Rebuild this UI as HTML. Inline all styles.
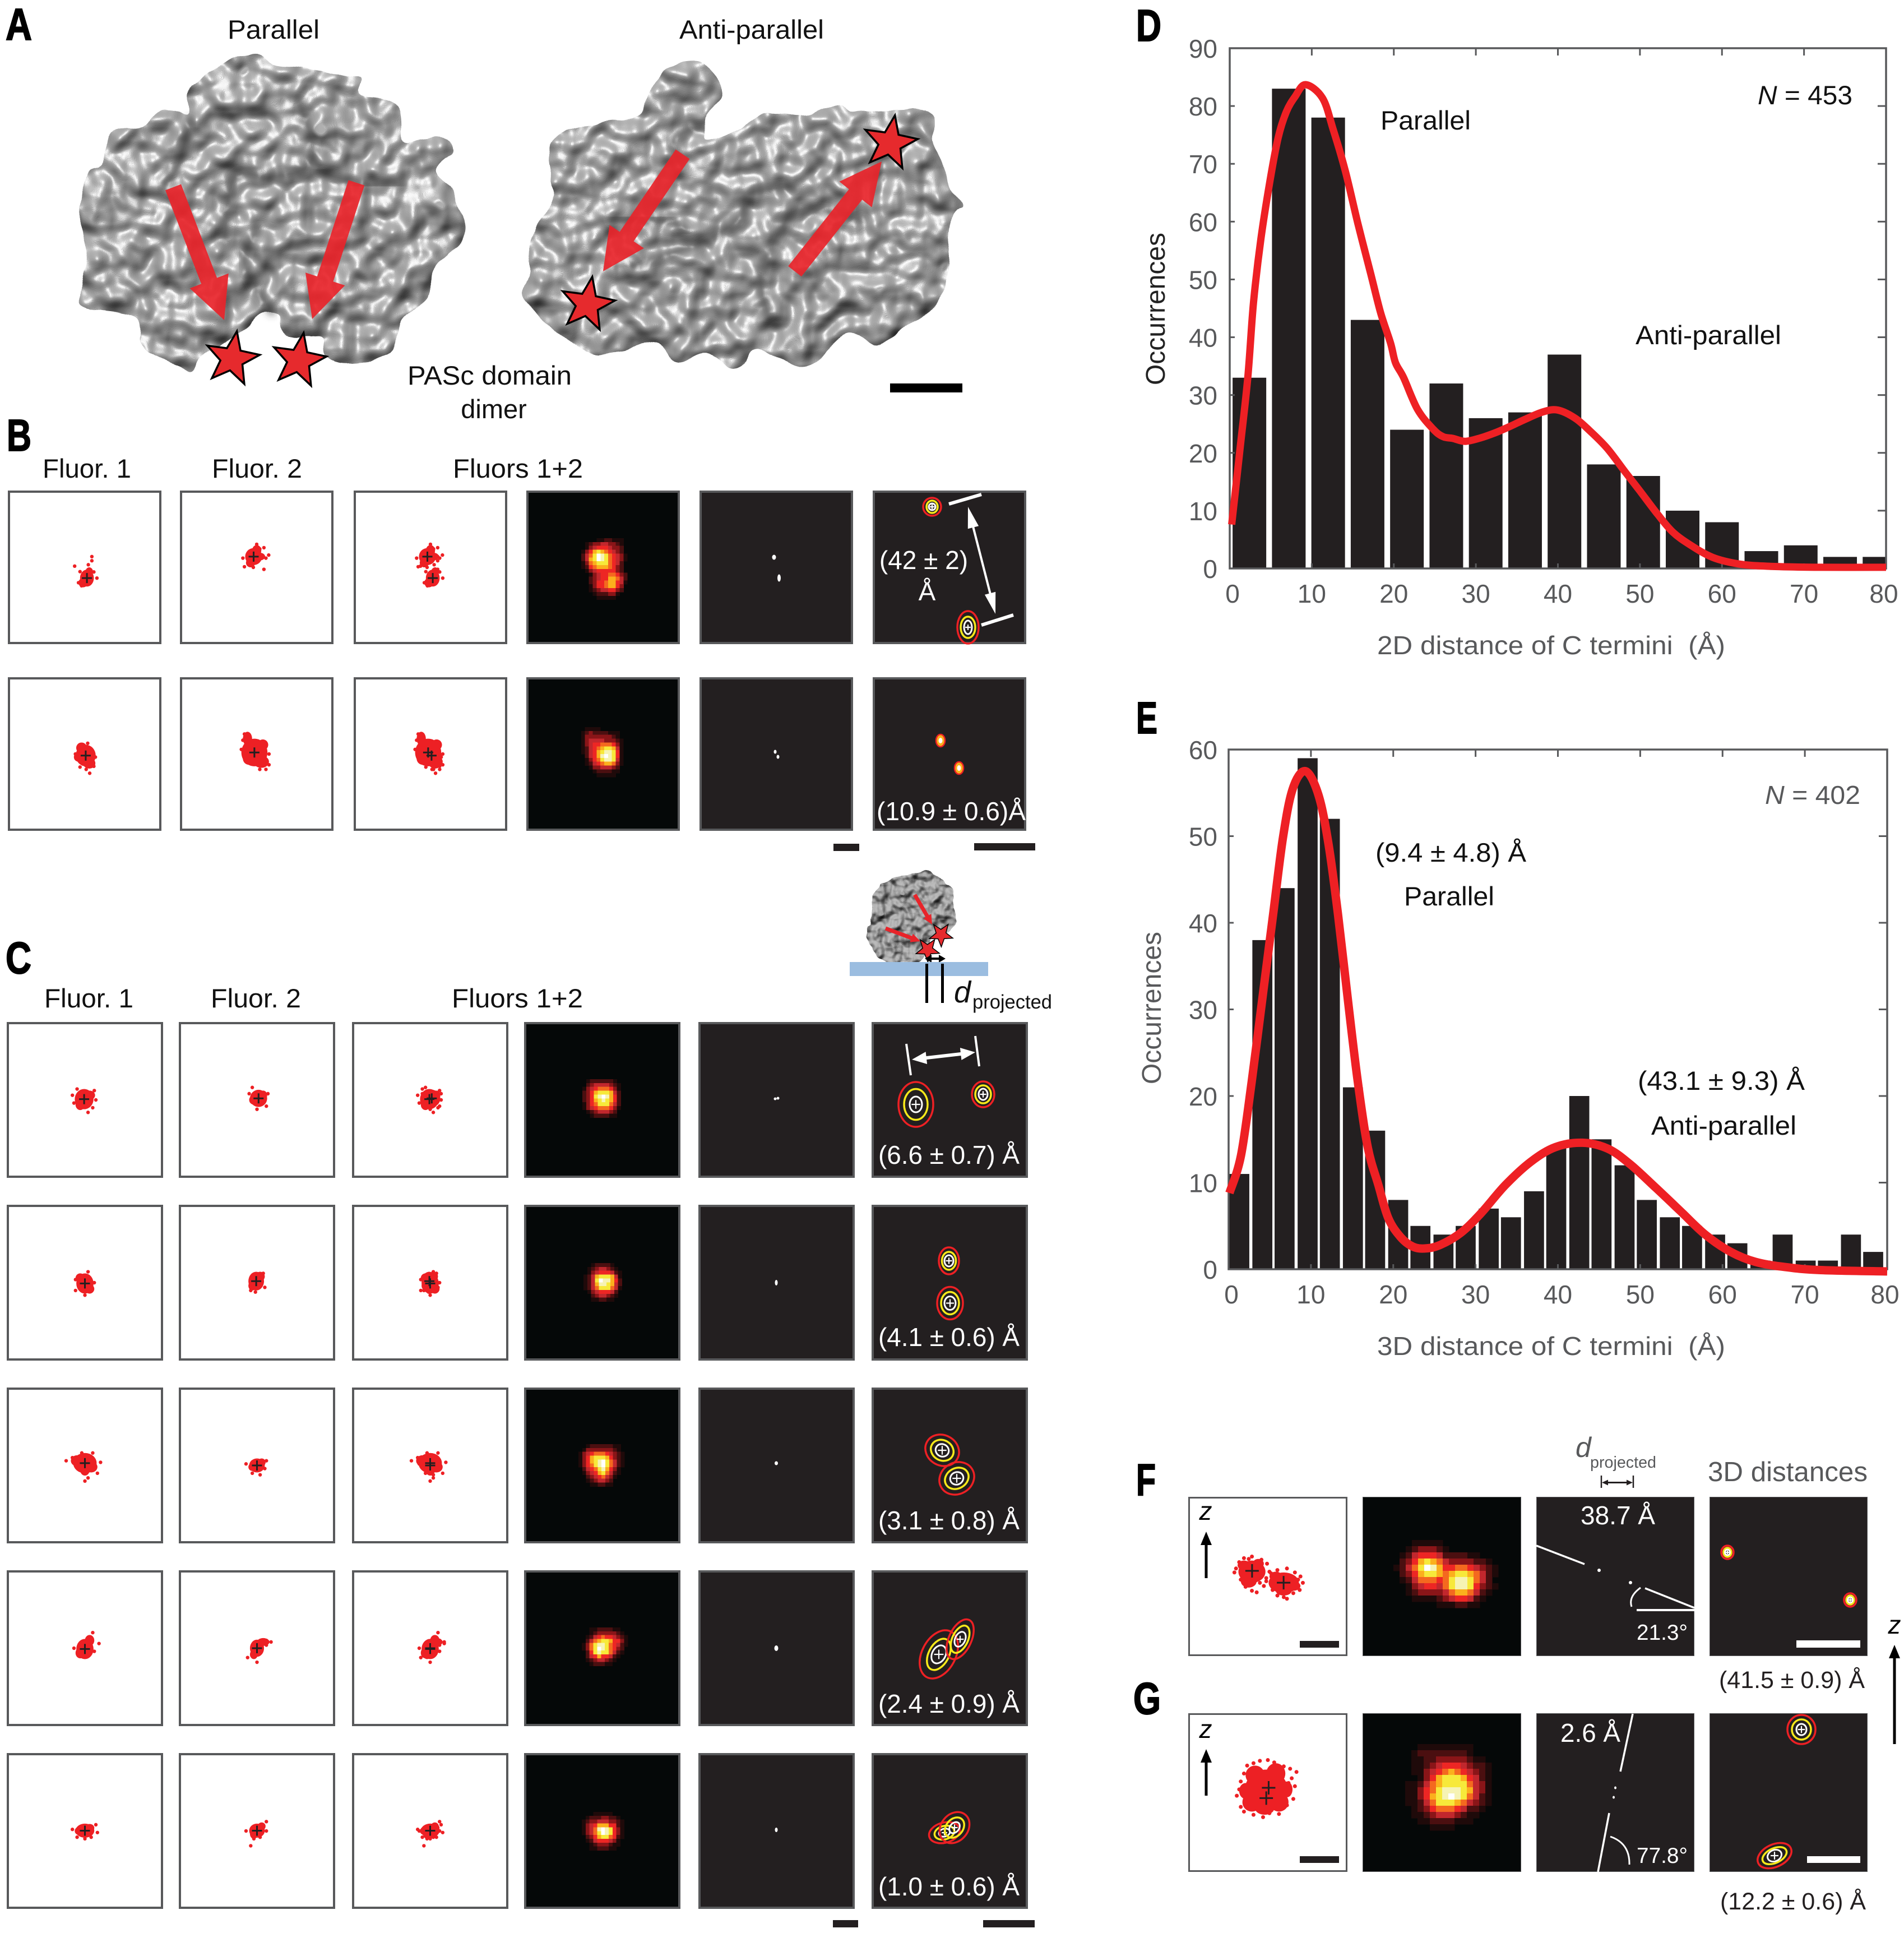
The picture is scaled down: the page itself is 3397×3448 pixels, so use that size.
<!DOCTYPE html>
<html lang="en">
<head>
<meta charset="utf-8">
<title>PASc domain dimer distance figure</title>
<style>
html,body{margin:0;padding:0;background:#fff;}
svg{display:block;}
text{font-family:"Liberation Sans",Arial,sans-serif;white-space:pre;}
.h{font-size:47px;fill:#111;}
.g{font-size:46px;fill:#58595b;}
.w{font-size:46px;fill:#fff;}
.pl{font-size:80px;font-weight:700;fill:#000;stroke:#000;stroke-width:2px;}
</style>
</head>
<body>
<svg id="fig" xmlns="http://www.w3.org/2000/svg" width="3397" height="3448" viewBox="0 0 3397 3448">
<defs>
<filter id="surface" x="-6%" y="-6%" width="112%" height="112%" color-interpolation-filters="sRGB">
<feTurbulence type="fractalNoise" baseFrequency="0.02" numOctaves="2" seed="11" result="n"/>
<feDisplacementMap in="SourceAlpha" in2="n" scale="18" xChannelSelector="R" yChannelSelector="G" result="shape"/>
<feColorMatrix in="n" type="matrix" values="0 0 0 0 0  0 0 0 0 0  0 0 0 0 0  1.6 0 0 0 -0.3" result="hn"/>
<feGaussianBlur in="shape" stdDeviation="10" result="edge"/>
<feComposite in="hn" in2="edge" operator="arithmetic" k1="0" k2="0.7" k3="0.3" k4="0" result="hsum"/>
<feGaussianBlur in="hsum" stdDeviation="2" result="h2"/>
<feDiffuseLighting in="h2" surfaceScale="16" diffuseConstant="1" lighting-color="#b2b2b2" result="d"><feDistantLight azimuth="250" elevation="62"/></feDiffuseLighting>
<feSpecularLighting in="h2" surfaceScale="16" specularConstant="0.32" specularExponent="50" lighting-color="#ffffff" result="s"><feDistantLight azimuth="250" elevation="62"/></feSpecularLighting>
<feComposite in="d" in2="s" operator="arithmetic" k1="0" k2="1" k3="1" k4="0" result="lit"/>
<feComposite in="lit" in2="shape" operator="in"/>
</filter>
<filter id="surfaceSmall" x="-6%" y="-6%" width="112%" height="112%" color-interpolation-filters="sRGB">
<feTurbulence type="fractalNoise" baseFrequency="0.05" numOctaves="2" seed="4" result="n"/>
<feDisplacementMap in="SourceAlpha" in2="n" scale="10" xChannelSelector="R" yChannelSelector="G" result="shape"/>
<feColorMatrix in="n" type="matrix" values="0 0 0 0 0  0 0 0 0 0  0 0 0 0 0  1.6 0 0 0 -0.3" result="h"/>
<feDiffuseLighting in="h" surfaceScale="7" diffuseConstant="1" lighting-color="#bcbcbc" result="d"><feDistantLight azimuth="250" elevation="62"/></feDiffuseLighting>
<feComposite in="d" in2="shape" operator="in"/>
</filter>
<filter id="soft" x="-20%" y="-20%" width="140%" height="140%"><feGaussianBlur stdDeviation="6"/></filter>
</defs>

<rect x="0" y="0" width="3397" height="3448" fill="#ffffff"/>

<g id="proteins"></g>
<g id="panels"></g>
<g id="charts"></g>

<g>
<text class="pl" x="10" y="71" textLength="47" lengthAdjust="spacingAndGlyphs">A</text>
<text class="pl" x="12" y="804" textLength="44" lengthAdjust="spacingAndGlyphs">B</text>
<text class="pl" x="10" y="1736" textLength="46" lengthAdjust="spacingAndGlyphs">C</text>
<text class="pl" x="2027" y="73" textLength="45" lengthAdjust="spacingAndGlyphs">D</text>
<text class="pl" x="2027" y="1308" textLength="38" lengthAdjust="spacingAndGlyphs">E</text>
<text class="pl" x="2027" y="2667" textLength="35" lengthAdjust="spacingAndGlyphs">F</text>
<text class="pl" x="2022" y="3057" textLength="49" lengthAdjust="spacingAndGlyphs">G</text>
</g>

<g>
<text class="h" x="406" y="69" textLength="164" lengthAdjust="spacingAndGlyphs">Parallel</text>
<text class="h" x="1212" y="69" textLength="258" lengthAdjust="spacingAndGlyphs">Anti-parallel</text>
<text class="h" x="727" y="686" textLength="293" lengthAdjust="spacingAndGlyphs">PASc domain</text>
<text class="h" x="881" y="746" text-anchor="middle">dimer</text>
<rect x="1588" y="684" width="129" height="16" fill="#000"/>
</g>

<g>
<text class="h" x="76" y="852" textLength="158" lengthAdjust="spacingAndGlyphs">Fluor. 1</text>
<text class="h" x="378" y="852" textLength="161" lengthAdjust="spacingAndGlyphs">Fluor. 2</text>
<text class="h" x="808" y="852" textLength="232" lengthAdjust="spacingAndGlyphs">Fluors 1+2</text>
<rect x="1487" y="1505" width="46" height="13" fill="#231f20"/>
<rect x="1738" y="1504" width="109" height="13" fill="#231f20"/>
</g>

<g>
<text class="h" x="79" y="1797" textLength="159" lengthAdjust="spacingAndGlyphs">Fluor. 1</text>
<text class="h" x="376" y="1797" textLength="161" lengthAdjust="spacingAndGlyphs">Fluor. 2</text>
<text class="h" x="806" y="1797" textLength="234" lengthAdjust="spacingAndGlyphs">Fluors 1+2</text>
<rect x="1486" y="3425" width="45" height="13" fill="#231f20"/>
<rect x="1754" y="3425" width="92" height="13" fill="#231f20"/>
<rect x="1516" y="1716" width="247" height="25" fill="#9bbde0"/>
<rect x="1651" y="1719" width="5" height="70" fill="#000"/>
<rect x="1679" y="1719" width="5" height="70" fill="#000"/>
<text x="1702" y="1788" font-size="54" font-style="italic" fill="#111">d</text>
<text x="1735" y="1799" font-size="35" fill="#111" textLength="142" lengthAdjust="spacingAndGlyphs">projected</text>
</g>

<g>
<text class="w" x="1648" y="1015" text-anchor="middle">(42 ± 2)</text>
<text class="w" x="1654" y="1071" text-anchor="middle">Å</text>
<text class="w" x="1564" y="1463" textLength="266" lengthAdjust="spacingAndGlyphs">(10.9 ± 0.6)Å</text>
<text class="w" x="1567" y="2076" textLength="252" lengthAdjust="spacingAndGlyphs">(6.6 ± 0.7) Å</text>
<text class="w" x="1567" y="2401" textLength="252" lengthAdjust="spacingAndGlyphs">(4.1 ± 0.6) Å</text>
<text class="w" x="1567" y="2728" textLength="252" lengthAdjust="spacingAndGlyphs">(3.1 ± 0.8) Å</text>
<text class="w" x="1567" y="3055" textLength="252" lengthAdjust="spacingAndGlyphs">(2.4 ± 0.9) Å</text>
<text class="w" x="1567" y="3381" textLength="252" lengthAdjust="spacingAndGlyphs">(1.0 ± 0.6) Å</text>
</g>

<g>
<text x="2811" y="2599" font-size="50" font-style="italic" fill="#58595b">d</text>
<text x="2837" y="2618" font-size="29" fill="#58595b" textLength="118" lengthAdjust="spacingAndGlyphs">projected</text>
<text x="3047" y="2642" font-size="49" fill="#58595b" textLength="285" lengthAdjust="spacingAndGlyphs">3D distances</text>
<text class="w" x="2820" y="2719" textLength="133" lengthAdjust="spacingAndGlyphs">38.7 Å</text>
<text x="2920" y="2925" font-size="39" fill="#fff" textLength="91" lengthAdjust="spacingAndGlyphs">21.3°</text>
<text class="w" x="2784" y="3107" textLength="107" lengthAdjust="spacingAndGlyphs">2.6 Å</text>
<text x="2920" y="3323" font-size="39" fill="#fff" textLength="91" lengthAdjust="spacingAndGlyphs">77.8°</text>
<text x="3067" y="3011" font-size="43" fill="#231f20" textLength="260" lengthAdjust="spacingAndGlyphs">(41.5 ± 0.9) Å</text>
<text x="3069" y="3406" font-size="43" fill="#231f20" textLength="260" lengthAdjust="spacingAndGlyphs">(12.2 ± 0.6) Å</text>
<text x="2151" y="2711" font-size="46" font-style="italic" fill="#000" text-anchor="middle">z</text>
<text x="2151" y="3100" font-size="46" font-style="italic" fill="#000" text-anchor="middle">z</text>
<text x="3380" y="2914" font-size="46" font-style="italic" fill="#000" text-anchor="middle">z</text>
</g>

<g>
<text class="h" x="2463" y="231" textLength="161" lengthAdjust="spacingAndGlyphs">Parallel</text>
<text class="h" x="2918" y="614" textLength="260" lengthAdjust="spacingAndGlyphs">Anti-parallel</text>
<text class="h" x="3136" y="186" textLength="169" lengthAdjust="spacingAndGlyphs"><tspan font-style="italic">N</tspan> = 453</text>
<text x="2078" y="551" font-size="48" fill="#222" text-anchor="middle" transform="rotate(-90 2078 551)">Occurrences</text>
<text class="g" x="2457" y="1167" textLength="621" lengthAdjust="spacingAndGlyphs" xml:space="preserve">2D distance of C termini  (Å)</text>
</g>

<g>
<text class="h" x="2454" y="1537" textLength="269" lengthAdjust="spacingAndGlyphs">(9.4 ± 4.8) Å</text>
<text class="h" x="2505" y="1615" textLength="161" lengthAdjust="spacingAndGlyphs">Parallel</text>
<text class="h" x="2922" y="1944" textLength="298" lengthAdjust="spacingAndGlyphs">(43.1 ± 9.3) Å</text>
<text class="h" x="2946" y="2024" textLength="259" lengthAdjust="spacingAndGlyphs">Anti-parallel</text>
<text class="g" x="3149" y="1434" textLength="170" lengthAdjust="spacingAndGlyphs"><tspan font-style="italic">N</tspan> = 402</text>
<text x="2071" y="1798" font-size="48" fill="#58595b" text-anchor="middle" transform="rotate(-90 2071 1798)">Occurrences</text>
<text class="g" x="2457" y="2417" textLength="621" lengthAdjust="spacingAndGlyphs" xml:space="preserve">3D distance of C termini  (Å)</text>
</g>
</svg>

<script>
/* ---------- Chart data: panel D ---------- */
const xTickValues = [0,10,20,30,40,50,60,70,80];
const dYTickValues = [0,10,20,30,40,50,60,70,80,90];
const dBinCenters = [2.4,7.2,12,16.8,21.6,26.4,31.2,36,40.8,45.6,50.4,55.2,60,64.8,69.6,74.4,79.2];
const dCounts = [33,83,78,43,24,32,26,27,37,18,16,10,8,3,4,2,2];
const dFitX = [0.24,1.2,2.2,2.9,3.8,4.9,5.9,6.9,8,9.25,11.3,12.6,14.1,15.6,17.2,18.4,19.6,20.2,21.2,22.9,24.8,26,27.2,28.7,30.6,32.4,34.2,36,38.2,40,42.1,43.9,46,48.2,50,52.2,54,56.1,58.9,62.2,65.9,72,80];
const dFitY = [7.6,20,33,46,57,67,74.5,79,81.7,83.7,81.4,76,68.7,59.8,50.9,44.2,39,35.6,33,27.5,24.1,22.8,22.5,22,22.6,23.5,24.6,25.8,27.1,27.4,26,23.8,20.8,16.7,13.4,9.3,6.3,4.1,1.9,0.75,0.37,0.2,0.2];

/* ---------- Chart data: panel E ---------- */
const eYTickValues = [0,10,20,30,40,50,60];
const eBinCenters = [1.3,4.1,6.8,9.6,12.3,15.1,17.8,20.6,23.3,26.1,28.8,31.6,34.3,37.1,39.8,42.6,45.3,48.1,50.8,53.6,56.3,59.1,61.8,64.6,67.3,70.1,72.8,75.6,78.3];
const eCounts = [11,38,44,59,52,21,16,8,5,4,5,7,6,9,14,20,15,12,8,6,5,4,3,1,4,1,1,4,2];
const eFitX = [0.1,1.5,2.8,4.2,5.4,6.6,7.8,9.35,10.9,12.1,13.3,14.5,15.7,16.9,18.2,19.4,20.9,22.4,23.9,25.7,28.2,30.6,33.6,36.7,39.7,43,46.1,48.8,51.9,54.9,57.9,61,64,67.6,71.9,80];
const eFitY = [8.8,13.1,21.6,32,40.9,49.8,55.5,57.5,54.8,49.3,40.9,31,21.6,14.1,9.7,5.9,3.7,2.6,2.4,2.8,4.2,6.4,9.7,12.4,14.1,14.6,13.9,12.1,9.4,6.7,4,2,0.85,0.25,-0.1,-0.25];

/* ---------- Heatmap intensities, one string per pixel row (0 black .. a white) ---------- */
const heatB1 = ["000011221110","012334433210","013455543320","135787654320","2468a9865431","2478a9865431","136788865420","125677765320","013455555320","001345566532","002345577642","002355677541","001355677530","001234455320","000122233100","000011111000"];
const heatB2 = ["001111000000","012322221110","013333333210","013444433321","013455666531","012456788741","012457899851","0024579a9851","001356899841","001245677631","000133444320","000012222110","000001111100"];
const heatC1 = ["0122222210","0234444321","1345666531","2357888742","23589a9752","2357898752","1356888642","1345666531","0123444320","0012222110"];
const heatC2 = ["0012222100","0123443210","0134555421","1247888741","1248a99752","1247998742","1246888641","0134555420","0023443210","0011221100"];
const heatC3 = ["001222222110","013333333210","134566654321","135788875321","135789a86421","135689a86421","024568975310","013457864210","002345643100","001234432000","000112211000"];
const heatC4 = ["001122221100","001233333210","012456554321","024678875531","136899865421","1368a9865320","025898864210","024575542100","012344321000","001222110000"];
const heatC5 = ["00011111000","01222332210","12334443321","13457775521","13469a98531","13468a98531","02357886521","01245554310","00123332110","00112221100"];
const heatF = ["00011111000000000","00123332100000000","01245554222211000","02357876433332210","12468a97556654321","02357887678876421","01246665689986420","00134554689985321","00123333467764210","00011112345542100","00000001112211000"];
const heatG = ["000111111111000","001222222221000","001122333332110","001123455543221","001134567654321","000135788875421","011246788886431","011356899987431","01135789a986421","011246888764321","001235666542210","001123444321100","000112222111000","000001111000000"];
const heatColors = ["#050808","#1f0a0a","#4b0f10","#8a1518","#c1272d","#ed2624","#f4691f","#fbb01d","#f7e93a","#f6f3b4","#ffffff"];

/* ---------- Localization clusters, percent of panel width/height ---------- */
const clusterB1a = {c:[51.5,57],r:[4.5,5.5],lobes:[[49,60,3,3],[53,53,2.5,3]],out:[[54.7,43],[52.4,48.3],[43.5,49.2],[47,52.8],[54.7,45.7],[58,57],[48,62],[46,60],[56,53]]};
const clusterB1b = {c:[48,43],r:[5.5,5.5],lobes:[[46,47,3,3],[50,39,3,3.5],[52,43,3.5,2.5]],out:[[57.8,42],[50,35],[54.7,37.2],[47.8,50],[54.7,51.3],[42,49.6],[41,44],[52,38],[56,44]]};
const clusterB2a = {c:[50.7,51],r:[6.5,7],lobes:[[48,46,3.5,3.5],[53,56,4,3.5],[46,52,3,3]],out:[[53.3,62.5],[51,60],[47,58.5],[56,58],[44,50],[52,43],[57,52]]};
const clusterB2b = {c:[48.5,49],r:[8.5,9],lobes:[[44,40,3,4.5],[53,55,5,4],[45,53,4,4],[54,44,3.5,3.5]],out:[[42,37],[41,41],[52,60],[58,57],[56,60],[40,47],[44,38],[58,50]]};
const clusterC1a = {c:[49.5,49.5],r:[6,6.5],lobes:[[53,47,3.5,3],[47,53,3,3.5]],out:[[56,44],[43,52],[55,55],[52,58],[45,43],[42,47],[57,50]]};
const clusterC1b = {c:[51,49],r:[5.5,5.5],lobes:[[48,50,3,3],[54,47,2.5,3]],out:[[57,46],[45,46],[50,56],[56,54],[47,42]]};
const clusterC2a = {c:[50,50.5],r:[5.5,6.5],lobes:[[47,47,3,3],[53,54,3,3]],out:[[56,50],[44,55],[50,58],[52,43],[44,48]]};
const clusterC2b = {c:[49.5,49],r:[5,6],lobes:[[52,46,3,3],[47,52,2.5,3]],out:[[54,44],[55,53],[46,55],[49,56]]};
const clusterC3a = {c:[50,48.5],r:[7.5,6.5],lobes:[[45,47,4,3.5],[54,51,4,3.5],[50,53,3,3.5]],out:[[60,48],[42,45],[38,47],[58,55],[52,58],[48,42],[55,42],[50,60]]};
const clusterC3b = {c:[50,50],r:[5,4.5],lobes:[[47,51,2.5,2.5],[53,48,2.5,2.5]],out:[[56,47],[43,49],[52,56],[47,55],[55,52]]};
const clusterC4a = {c:[50,50.5],r:[5.5,6.5],lobes:[[53,45,3,3.5],[47,53,3,3.5]],out:[[55,40],[59,47],[43,50],[56,52],[54,44]]};
const clusterC4b = {c:[50,50],r:[4.5,5.5],lobes:[[54,46,4,2.5],[48,54,2.5,3]],out:[[56,45],[59,46],[50,59],[44,56],[56,48]]};
const clusterC5a = {c:[50,49.8],r:[6,4.5],lobes:[[46,50,2.5,2.5],[53,48,3,2.5]],out:[[42,49],[57,46],[58,51],[54,54],[45,54],[50,55]]};
const clusterC5b = {c:[50,49.8],r:[5,4.5],lobes:[[48,52,2.5,3],[53,47,2.5,2.5]],out:[[46,59.5],[52,54],[56,44],[43,50],[56,50],[48,55]]};
const clusterF1 = {c:[40,47],r:[8.5,7],lobes:[[38,53,5,4],[35,43,4,3],[44,42,3.5,3]],out:[[30,45],[32,41],[35,38.5],[40,37.5],[46,39.5],[49.5,42],[51,47],[49,51],[45,54],[40,59],[36,56.5],[33,52],[29,47.5],[43,60],[38,39]]};
const clusterF2 = {c:[60,54],r:[9.5,6.5],lobes:[[55,50,4,3],[66,56,4.5,3],[60,59,5,3]],out:[[49,53],[52,48],[56,46],[62,45],[67,47.5],[70.5,50],[72,54],[70,58.5],[66,60.5],[60,63],[56,62],[53,58.5],[47.5,56],[69,52],[62,64]]};
const clusterG1 = {c:[49,48.5],r:[13.5,13],lobes:[[42,39,6,6],[55,38,6,6.5],[40,56,6,6],[57,56,6,6],[62,48,3.5,5],[36,49,4,5],[48,60,6,4]],out:[[37,33],[41,31.5],[45,30],[50,29.5],[54,31],[60,33.5],[64,35],[68,37],[35,38],[33,43],[32,48],[30.5,52],[33,59],[35,62],[41,64],[47,65.5],[51,63],[57,63.5],[62,58],[66,54],[67,46],[65,41],[63,44]]};

const NS = "http://www.w3.org/2000/svg";
function make(parent, tag, attrs) {
  const n = document.createElementNS(NS, tag);
  for (const k in attrs) n.setAttribute(k, attrs[k]);
  parent.appendChild(n);
  return n;
}
function smoothOpenPath(pts) {
  let d = "M" + pts[0][0].toFixed(1) + " " + pts[0][1].toFixed(1);
  for (let i = 0; i < pts.length - 1; i++) {
    const p0 = pts[Math.max(0, i - 1)], p1 = pts[i], p2 = pts[i + 1], p3 = pts[Math.min(pts.length - 1, i + 2)];
    d += "C" + (p1[0] + (p2[0] - p0[0]) / 6).toFixed(1) + " " + (p1[1] + (p2[1] - p0[1]) / 6).toFixed(1) + " "
       + (p2[0] - (p3[0] - p1[0]) / 6).toFixed(1) + " " + (p2[1] - (p3[1] - p1[1]) / 6).toFixed(1) + " "
       + p2[0].toFixed(1) + " " + p2[1].toFixed(1);
  }
  return d;
}

/* ---------- Histograms ---------- */
function drawHistogram(box, yMax, yTicks, centers, counts, binWidth, fitX, fitY, lineW, chartName) {
  const root = document.getElementById("charts");
  const g = make(root, "g", {});
  
  
  const sx = v => box.l + (v / 80) * (box.r - box.l);
  const sy = v => box.b - (v / yMax) * (box.b - box.t);
  centers.forEach((c, i) => {
    const x0 = sx(Math.max(0, c - binWidth / 2));
    const x1 = sx(Math.min(80, c + binWidth / 2));
    const bar = make(g, "rect", {x: x0, y: sy(counts[i]), width: x1 - x0, height: sy(0) - sy(counts[i]), fill: "#231f20"});
    
    
  });
  const frame = make(g, "rect", {x: box.l, y: box.t, width: box.r - box.l, height: box.b - box.t, fill: "none", stroke: "#58595b", "stroke-width": 3.5});
  
  
  xTickValues.forEach(v => {
    const x = sx(v);
    const t1 = make(g, "line", {x1: x, x2: x, y1: box.b, y2: box.b - 9, stroke: "#58595b", "stroke-width": 3});
    
    
    const t2 = make(g, "line", {x1: x, x2: x, y1: box.t, y2: box.t + 13, stroke: "#58595b", "stroke-width": 3});
    
    
    const lab = make(g, "text", {x: v === 0 ? x + 5 : (v === 80 ? x - 4 : x), y: box.b + 61, "font-size": 46, fill: "#58595b", "text-anchor": "middle"});
    lab.textContent = String(v);
    
    
  });
  yTicks.forEach(v => {
    const y = sy(v);
    const t1 = make(g, "line", {x1: box.l, x2: box.l + 9, y1: y, y2: y, stroke: "#58595b", "stroke-width": 3});
    
    
    const t2 = make(g, "line", {x1: box.r, x2: box.r - 15, y1: y, y2: y, stroke: "#58595b", "stroke-width": 3});
    
    
    const lab = make(g, "text", {x: 2172, y: y + 17, "font-size": 46, fill: "#58595b", "text-anchor": "end"});
    lab.textContent = String(v);
    
    
  });
  const pts = fitX.map((v, i) => [sx(v), sy(fitY[i])]);
  const fit = make(g, "path", {d: smoothOpenPath(pts), fill: "none", stroke: "#ee2024", "stroke-width": lineW, "stroke-linejoin": "round"});
  
  
}
drawHistogram({l:2194,r:3365,t:86,b:1014}, 90, dYTickValues, dBinCenters, dCounts, 4.1, dFitX, dFitY, 13, 'histogram-2d-distance');
drawHistogram({l:2192,r:3367,t:1337,b:2264}, 60, eYTickValues, eBinCenters, eCounts, 2.43, eFitX, eFitY, 15, 'histogram-3d-distance');

/* ---------- Protein surfaces ---------- */
const parallelOutline = [[275,330],[320,230],[370,190],[405,225],[440,235],[490,255],[530,270],[530,330],[585,370],[595,500],[640,470],[668,520],[640,600],[668,680],[685,800],[640,950],[620,1060],[590,1130],[575,1240],[510,1270],[480,1240],[470,1180],[420,1170],[410,1100],[380,1100],[355,1160],[300,1240],[280,1300],[255,1270],[210,1210],[200,1110],[125,1075],[115,1020],[130,920],[118,800],[125,620],[150,580],[160,470],[185,445],[210,440],[240,385],[275,405]];
const antiOutline = [[1025,220],[1055,270],[1060,340],[1040,420],[1040,490],[1090,450],[1120,400],[1190,400],[1235,365],[1260,390],[1320,385],[1370,395],[1375,500],[1395,640],[1415,720],[1400,770],[1385,1040],[1340,1130],[1290,1210],[1250,1160],[1190,1280],[1140,1240],[1110,1230],[1080,1290],[1040,1240],[1000,1270],[965,1200],[920,1220],[870,1240],[810,1140],[770,1030],[780,950],[780,830],[815,690],[810,500],[880,425],[940,410],[970,260]];
const insetOutline = [[470,130],[570,60],[680,45],[770,30],[890,100],[905,180],[920,230],[880,270],[790,290],[750,380],[640,395],[530,390],[450,320],[440,270],[470,210]];
const surfaceGrooves = [
  [[440,350],[460,560],[400,620],[345,620],[330,850]],
  [[280,420],[260,590],[240,650]],
  [[470,600],[530,640],[590,640]],
  [[380,800],[360,920],[400,1090]],
  [[1170,650],[1100,680],[1090,760],[1030,850],[930,930]],
  [[900,770],[980,770],[1010,810]],
  [[1030,440],[990,490],[1000,560]],
  [[1270,770],[1180,730],[1150,800],[1120,960],[1130,1100]]
];

function smoothClosed(pts) {
  let d = "M" + pts[0][0].toFixed(1) + " " + pts[0][1].toFixed(1);
  const n = pts.length;
  for (let i = 0; i < n; i++) {
    const p0 = pts[(i - 1 + n) % n], p1 = pts[i], p2 = pts[(i + 1) % n], p3 = pts[(i + 2) % n];
    d += "C" + (p1[0] + (p2[0] - p0[0]) / 6).toFixed(1) + " " + (p1[1] + (p2[1] - p0[1]) / 6).toFixed(1) + " "
       + (p2[0] - (p3[0] - p1[0]) / 6).toFixed(1) + " " + (p2[1] - (p3[1] - p1[1]) / 6).toFixed(1) + " "
       + p2[0].toFixed(1) + " " + p2[1].toFixed(1);
  }
  return d + "Z";
}
const proteinRoot = document.getElementById("proteins");
const parallelSurface = make(proteinRoot, "path", {d: smoothClosed(parallelOutline.map(p => [p[0] * 1.212, p[1] * 0.51])), fill: "#000", filter: "url(#surface)"});


const antiSurface = make(proteinRoot, "path", {d: smoothClosed(antiOutline.map(p => [p[0] * 1.212, p[1] * 0.51])), fill: "#000", filter: "url(#surface)"});


surfaceGrooves.forEach(line => {
  const groove = make(proteinRoot, "path", {d: smoothOpenPath(line.map(p => [p[0] * 1.212, p[1] * 0.51])), fill: "none", stroke: "#3a3a3a", "stroke-opacity": 0.6, "stroke-width": 14, "stroke-linecap": "round", filter: "url(#soft)"});
  
  
});
const insetSurface = make(proteinRoot, "path", {d: smoothClosed(insetOutline.map(p => [1400 + p[0] / 3, 1540 + p[1] / 2.24])), fill: "#000", filter: "url(#surfaceSmall)"});



function arrowPoints(x1, y1, x2, y2, w, hw, hl, doubleHead) {
  const L = Math.hypot(x2 - x1, y2 - y1), ux = (x2 - x1) / L, uy = (y2 - y1) / L, nx = -uy, ny = ux;
  const P = (a, b) => (x1 + ux * a + nx * b).toFixed(1) + "," + (y1 + uy * a + ny * b).toFixed(1);
  if (doubleHead) {
    return [P(0,0),P(hl,hw/2),P(hl,w/2),P(L-hl,w/2),P(L-hl,hw/2),P(L,0),P(L-hl,-hw/2),P(L-hl,-w/2),P(hl,-w/2),P(hl,-hw/2)].join(" ");
  }
  return [P(0,w/2),P(L-hl,w/2),P(L-hl,hw/2),P(L,0),P(L-hl,-hw/2),P(L-hl,-w/2),P(0,-w/2)].join(" ");
}
function starPoints(cx, cy, R, rot) {
  const out = [];
  for (let i = 0; i < 10; i++) {
    const r = i % 2 ? R * 0.42 : R;
    const a = (-90 + rot + i * 36) * Math.PI / 180;
    out.push((cx + r * Math.cos(a)).toFixed(1) + "," + (cy + r * Math.sin(a)).toFixed(1));
  }
  return out.join(" ");
}
[[309,334,400,571],[636,326,557,569],[1218,275,1076,484],[1418,484,1573,288]].forEach(a => {
  const arrow = make(proteinRoot, "polygon", {points: arrowPoints(a[0],a[1],a[2],a[3],30,74,75,false), fill: "#e8242a", "fill-opacity": 0.92});
  
  
});
[[414,640],[533,643],[1048,543],[1588,255]].forEach(s => {
  const star = make(proteinRoot, "polygon", {points: starPoints(s[0],s[1],50,10), fill: "#e62a2d", stroke: "#000", "stroke-width": 3.5});
  
  
});
[[1632,1596,1663,1649],[1580,1656,1642,1679]].forEach(a => {
  const arrow = make(proteinRoot, "polygon", {points: arrowPoints(a[0],a[1],a[2],a[3],7,16,17,false), fill: "#e8242a"});
  
  
});
[[1679,1667],[1655,1694]].forEach(s => {
  const star = make(proteinRoot, "polygon", {points: starPoints(s[0],s[1],22,35), fill: "#e62a2d", stroke: "#000", "stroke-width": 1.5});
  
  
});
const insetArrow = make(proteinRoot, "polygon", {points: arrowPoints(1650,1710,1687,1710,4,14,12,true), fill: "#000"});



/* ---------- Image panels ---------- */
const panels = document.getElementById("panels");
function panelBox(x, y, w, h, fill, name, bw) {
  const r = make(panels, "rect", {x: x + bw / 2, y: y + bw / 2, width: w - bw, height: h - bw, fill: fill, stroke: "#58595b", "stroke-width": bw});
  
  
}
function drawCluster(box, cl, dotR) {
  const px = u => box.x + box.w * u / 100, py = v => box.y + box.h * v / 100;
  const core = make(panels, "ellipse", {cx: px(cl.c[0]), cy: py(cl.c[1]), rx: box.w * cl.r[0] / 100, ry: box.h * cl.r[1] / 100, fill: "#ed2024"});
  
  
  cl.lobes.forEach(l => {
    const lobe = make(panels, "ellipse", {cx: px(l[0]), cy: py(l[1]), rx: box.w * l[2] / 100, ry: box.h * l[3] / 100, fill: "#ed2024"});
    
    
  });
  cl.out.forEach(o => {
    const d = make(panels, "circle", {cx: px(o[0]), cy: py(o[1]), r: dotR, fill: "#ed2024"});
    
    
  });
}
function drawCross(box, u, v, arm) {
  const x = box.x + box.w * u / 100, y = box.y + box.h * v / 100;
  const c = make(panels, "path", {d: "M" + (x - arm) + " " + y + "H" + (x + arm) + "M" + x + " " + (y - arm) + "V" + (y + arm), stroke: "#231f20", "stroke-width": 3, fill: "none"});
  
  
}
function drawHeat(matrix, x0, y0, size) {
  matrix.forEach((row, j) => {
    for (let i = 0; i < row.length; i++) {
      const level = parseInt(row[i], 16);
      if (!level) continue;
      const cell = make(panels, "rect", {x: x0 + i * size, y: y0 + j * size, width: size + 0.4, height: size + 0.4, fill: heatColors[level], "shape-rendering": "crispEdges"});
      
      
    }
  });
}
function drawRings(r) {
  const g = make(panels, "g", {transform: "rotate(" + r[8] + " " + r[0] + " " + r[1] + ")"});
  
  
  const red = make(g, "ellipse", {cx: r[0], cy: r[1], rx: r[2], ry: r[3], fill: "none", stroke: "#ed2024", "stroke-width": 3.5});
  
  
  const yellow = make(g, "ellipse", {cx: r[0], cy: r[1], rx: r[4], ry: r[5], fill: "none", stroke: "#f7e91a", "stroke-width": 3.5});
  
  
  const white = make(g, "ellipse", {cx: r[0], cy: r[1], rx: r[6], ry: r[7], fill: "none", stroke: "#fff", "stroke-width": 3});
  
  
  const arm = Math.min(r[6], r[7]) * 0.7;
  const plus = make(panels, "path", {d: "M" + (r[0] - arm) + " " + r[1] + "H" + (r[0] + arm) + "M" + r[0] + " " + (r[1] - arm) + "V" + (r[1] + arm), stroke: "#fff", "stroke-width": 2.2, fill: "none"});
  
  
}
function whiteLine(x1, y1, x2, y2, w) {
  const l = make(panels, "line", {x1: x1, y1: y1, x2: x2, y2: y2, stroke: "#fff", "stroke-width": w});
  
  
}
function whiteDot(cx, cy, rx, ry) {
  const e = make(panels, "ellipse", {cx: cx, cy: cy, rx: rx, ry: ry, fill: "#fff"});
  
  
}

const rowsBC = [
  {xs:[14,321,631,939,1248,1557], y:875, h:274, w:274, a:clusterB1a, b:clusterB1b, heat:heatB1, hx:1037, hy:960},
  {xs:[14,321,631,939,1248,1557], y:1208, h:274, w:274, a:clusterB2a, b:clusterB2b, heat:heatB2, hx:1030, hy:1297},
  {xs:[12,319,628,935,1246,1555], y:1823, h:278, w:279, a:clusterC1a, b:clusterC1b, heat:heatC1, hx:1039, hy:1925},
  {xs:[12,319,628,935,1246,1555], y:2149, h:278, w:279, a:clusterC2a, b:clusterC2b, heat:heatC2, hx:1041, hy:2253},
  {xs:[12,319,628,935,1246,1555], y:2475, h:278, w:279, a:clusterC3a, b:clusterC3b, heat:heatC3, hx:1032, hy:2576},
  {xs:[12,319,628,935,1246,1555], y:2801, h:278, w:279, a:clusterC4a, b:clusterC4b, heat:heatC4, hx:1038, hy:2903},
  {xs:[12,319,628,935,1246,1555], y:3127, h:278, w:279, a:clusterC5a, b:clusterC5b, heat:heatC5, hx:1038, hy:3232}
];
rowsBC.forEach(row => {
  panelBox(row.xs[0], row.y, row.w, row.h, "#fff", "fluor-1-scatter-panel", 4);
  panelBox(row.xs[1], row.y, row.w, row.h, "#fff", "fluor-2-scatter-panel", 4);
  panelBox(row.xs[2], row.y, row.w, row.h, "#fff", "combined-scatter-panel", 4);
  panelBox(row.xs[3], row.y, row.w, row.h, "#050808", "heatmap-panel", 4);
  panelBox(row.xs[4], row.y, row.w, row.h, "#231f20", "fitted-positions-panel", 4);
  panelBox(row.xs[5], row.y, row.w, row.h, "#231f20", "distance-panel", 4);
  const b1 = {x: row.xs[0], y: row.y, w: row.w, h: row.h};
  const b2 = {x: row.xs[1], y: row.y, w: row.w, h: row.h};
  const b3 = {x: row.xs[2], y: row.y, w: row.w, h: row.h};
  drawCluster(b1, row.a, 3.2);
  drawCross(b1, row.a.c[0], row.a.c[1], 9);
  drawCluster(b2, row.b, 3.2);
  drawCross(b2, row.b.c[0], row.b.c[1], 9);
  drawCluster(b3, row.a, 3.2);
  drawCluster(b3, row.b, 3.2);
  drawCross(b3, row.a.c[0], row.a.c[1], 9);
  drawCross(b3, row.b.c[0], row.b.c[1], 9);
  drawHeat(row.heat, row.hx, row.hy, 6.85);
});

/* fitted-position dots */
[[1381,994,3.5,4.5],[1390,1031,3,6.5],[1383,1341,2.5,3.5],[1388,1350,2.5,3.5],[1383,1960,2.5,2.5],[1388,1959,2.5,2.5],[1385,2288,2.5,5],[1385,2610,3,3.5],[1385,2940,3.5,5],[1385,3264,2.5,4]].forEach(d => whiteDot(d[0], d[1], d[2], d[3]));

/* precision rings: cx,cy, red rx,ry, yellow rx,ry, white rx,ry, rotation */
[
  [1663,904,16,16,10,11,6,6,0],
  [1727,1119,19,29,13,19,7,12,0],
  [1634,1970,31,40,21,27.5,11,14,0],
  [1754,1952,20,23,14,16,8,10,0],
  [1693,2249,18,24,12.5,16,8,10,0],
  [1695,2324.5,23,29,16,20,10,12,0],
  [1681,2587,31,27,21,18,12,11,30],
  [1707,2637,32,28,22,18,12,11,-30],
  [1675,2951,46,30,30,18,17,12,-62],
  [1713,2924,38,20,26,14,14,9,-65],
  [1685,3269,28,18,18,12,10,7,-15],
  [1703,3260,30,24,20,15,11,8,-50]
].forEach(drawRings);

/* panel B row 2 bright spots */
[[1678,1321],[1711,1370]].forEach(s => {
  const outer = make(panels, "ellipse", {cx: s[0], cy: s[1], rx: 8, ry: 11, fill: "#fbb01d", stroke: "#ed2024", "stroke-width": 2.5});
  
  
  whiteDot(s[0], s[1], 3.5, 5);
});

/* distance brackets and arrows */
whiteLine(1693,899,1751,882,6);
whiteLine(1751,1115,1808,1097,6);
const arrowB = make(panels, "polygon", {points: arrowPoints(1727,904,1776,1095,4,20,38,true), fill: "#fff"});


whiteLine(1617,1862,1625,1918,4);
whiteLine(1740,1848,1747,1902,4);
const arrowC = make(panels, "polygon", {points: arrowPoints(1627,1890,1740,1877,6,22,26,true), fill: "#fff"});



/* panels F and G */
const fgX = [2120,2431,2741,3050];
[[2670,284],[3056,283]].forEach(r => {
  panelBox(fgX[0], r[0], 284, r[1], "#fff", "scatter-panel-fg", 3);
  panelBox(fgX[1], r[0], 283, r[1], "#050808", "heatmap-panel-fg", 1);
  panelBox(fgX[2], r[0], 282, r[1], "#231f20", "projection-panel-fg", 1);
  panelBox(fgX[3], r[0], 282, r[1], "#231f20", "distance-panel-fg", 1);
});
const boxF = {x:2120,y:2670,w:284,h:284};
const boxG = {x:2120,y:3056,w:284,h:283};
drawCluster(boxF, clusterF1, 3.5);
drawCluster(boxF, clusterF2, 3.5);
drawCross(boxF, 40.1, 46.5, 12);
drawCross(boxF, 59.9, 53.9, 12);
drawCluster(boxG, clusterG1, 3.5);
drawCross(boxG, 50.5, 47, 12);
drawCross(boxG, 49, 53.5, 12);
drawHeat(heatF, 2486, 2747, 11);
drawHeat(heatG, 2496, 3111, 11);

[
  [3082,2769,11,12,7,8,4.5,5,0],
  [3301,2854,11,12,7,8,4.5,5,0],
  [3214,3085,25,26,17,18,9,10,0],
  [3166,3310,32,20,23,13,13,10,-25]
].forEach(drawRings);

whiteLine(2741,2757,2827,2790,3.5);
whiteLine(2935,2833,3023,2868,3.5);
whiteLine(2920,2872,3023,2872,4);
whiteDot(2853,2801,3,3);
whiteDot(2909,2823,3,3);
whiteLine(2913,3057,2891,3160,3.5);
whiteLine(2871,3234,2851,3339,3.5);
whiteDot(2882,3189,2,2.5);
whiteDot(2879,3206,2,2.5);
const arcF = make(panels, "path", {d: "M2927 2832Q2905 2848 2911 2866", fill: "none", stroke: "#fff", "stroke-width": 3});


const arcG = make(panels, "path", {d: "M2873 3276Q2908 3288 2907 3326", fill: "none", stroke: "#fff", "stroke-width": 3});



[[2319,2927,70,12,"#231f20"],[2319,3311,70,12,"#231f20"],[3205,2926,114,13,"#fff"],[3224,3311,95,12,"#fff"]].forEach(b => {
  const bar = make(panels, "rect", {x: b[0], y: b[1], width: b[2], height: b[3], fill: b[4]});
  
  
});
[[2152,2815,2152,2732],[2152,3203,2152,3120],[3380,3111,3380,2934]].forEach(a => {
  const z = make(panels, "polygon", {points: arrowPoints(a[0],a[1],a[2],a[3],5,20,24,false), fill: "#000"});
  
  
});
const dArrow = make(panels, "polygon", {points: arrowPoints(2858,2644.5,2913,2644.5,3,10,11,true), fill: "#231f20"});


[2857,2914].forEach(x => {
  const t = make(panels, "line", {x1: x, x2: x, y1: 2632, y2: 2654, stroke: "#231f20", "stroke-width": 2.5});
  
  
});
</script>
</body>
</html>
